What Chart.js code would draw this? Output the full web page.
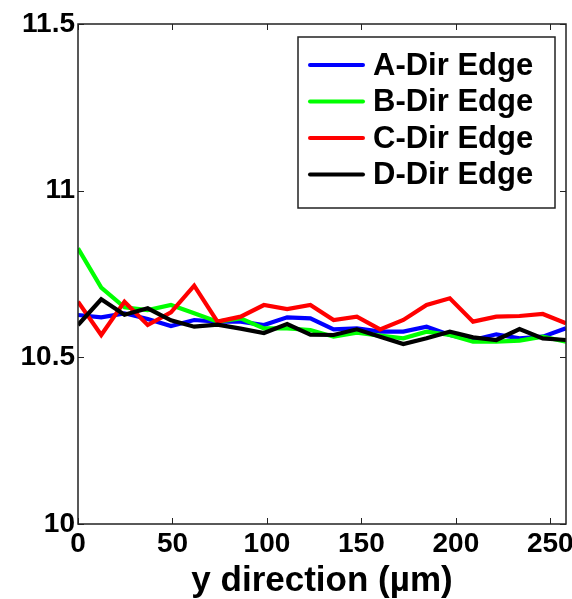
<!DOCTYPE html>
<html>
<head>
<meta charset="utf-8">
<script src="https://cdn.jsdelivr.net/npm/chart.js@4.4.0/dist/chart.umd.min.js"></script>
<style>
html,body{margin:0;padding:0;background:#fff;}
#wrap{width:572px;height:599px;}
</style>
</head>
<body>
<div id="wrap"><canvas id="c" width="572" height="599"></canvas></div>
<script>
const xPositions = [0,12.3,24.6,36.9,49.2,61.5,73.8,86.1,98.4,110.7,123,135.3,147.6,159.9,172.2,184.5,196.8,209.1,221.4,233.7,246,258.3];
const seriesA = [10.627,10.620,10.632,10.615,10.594,10.612,10.607,10.607,10.597,10.620,10.617,10.584,10.587,10.577,10.577,10.592,10.567,10.552,10.569,10.557,10.562,10.587];
const seriesB = [10.827,10.709,10.650,10.642,10.657,10.632,10.607,10.617,10.587,10.587,10.582,10.562,10.574,10.565,10.557,10.577,10.567,10.547,10.547,10.550,10.562,10.547];
const seriesC = [10.667,10.567,10.667,10.597,10.635,10.715,10.607,10.622,10.657,10.645,10.657,10.612,10.622,10.584,10.612,10.657,10.677,10.607,10.622,10.624,10.630,10.602];
const seriesD = [10.597,10.674,10.628,10.647,10.611,10.592,10.598,10.586,10.573,10.600,10.568,10.567,10.584,10.562,10.540,10.557,10.577,10.560,10.552,10.585,10.557,10.552];
const seriesNames = ['A-Dir Edge','B-Dir Edge','C-Dir Edge','D-Dir Edge'];
const xTickValues = [0,50,100,150,200,250];
const yTickValues = [10,10.5,11,11.5];
const xTitle = 'y direction (\u00b5m)';

const FONT = '"Liberation Sans", Arial, Helvetica, sans-serif';
const toPts = arr => arr.map((v,i)=>({x:xPositions[i], y:v}));

const framePlugin = {
  id:'frame',
  afterDatasetsDraw(chart){
    const {ctx, chartArea:a, scales:{x,y}} = chart;
    ctx.save();
    ctx.strokeStyle = '#222';
    ctx.lineWidth = 1.5;
    ctx.strokeRect(a.left, a.top, a.right-a.left, a.bottom-a.top);
    ctx.lineWidth = 1;
    const tl = 6;
    ctx.beginPath();
    xTickValues.forEach(v=>{
      const px = Math.round(x.getPixelForValue(v))+0.5;
      ctx.moveTo(px,a.bottom); ctx.lineTo(px,a.bottom-tl);
      ctx.moveTo(px,a.top); ctx.lineTo(px,a.top+tl);
    });
    yTickValues.forEach(v=>{
      const py = Math.round(y.getPixelForValue(v))+0.5;
      ctx.moveTo(a.left,py); ctx.lineTo(a.left+tl,py);
      ctx.moveTo(a.right,py); ctx.lineTo(a.right-tl,py);
    });
    ctx.stroke();
    ctx.restore();
  }
};

const legendPlugin = {
  id:'boxLegend',
  afterDraw(chart){
    const {ctx, chartArea:a} = chart;
    const bx = a.left + 220, by = a.top + 13, bw = 257, bh = 171;
    ctx.save();
    ctx.fillStyle = '#fff';
    ctx.fillRect(bx,by,bw,bh);
    ctx.strokeStyle = '#222';
    ctx.lineWidth = 1.5;
    ctx.strokeRect(bx,by,bw,bh);
    ctx.font = 'bold 31px ' + FONT;
    ctx.textBaseline = 'middle';
    ctx.textAlign = 'left';
    const ds = chart.data.datasets;
    ds.forEach((d,i)=>{
      const cy = by + 28 + i*36.5;
      ctx.strokeStyle = d.borderColor;
      ctx.lineWidth = 4;
      ctx.lineCap = 'round';
      ctx.beginPath();
      ctx.moveTo(bx+12, cy); ctx.lineTo(bx+65, cy);
      ctx.stroke();
      ctx.fillStyle = '#000';
      ctx.fillText(d.label, bx+75, cy+1);
    });
    ctx.restore();
  }
};

new Chart(document.getElementById('c'), {
  type:'line',
  data:{
    datasets:[
      {label:seriesNames[0], data:toPts(seriesA), borderColor:'#0000ff', order:3},
      {label:seriesNames[1], data:toPts(seriesB), borderColor:'#00ff00', order:2},
      {label:seriesNames[2], data:toPts(seriesC), borderColor:'#ff0000', order:1},
      {label:seriesNames[3], data:toPts(seriesD), borderColor:'#000000', order:0}
    ]
  },
  options:{
    responsive:false,
    animation:false,
    devicePixelRatio:1,
    layout:{padding:{top:24,right:6,left:0,bottom:0}},
    elements:{
      line:{borderWidth:4.2, tension:0, fill:false, borderJoinStyle:'miter'},
      point:{radius:0, hoverRadius:0}
    },
    plugins:{legend:{display:false}, tooltip:{enabled:false}},
    scales:{
      x:{
        type:'linear', min:0, max:258.3,
        grid:{display:false, drawTicks:false}, border:{display:false},
        afterBuildTicks(s){ s.ticks = xTickValues.map(v=>({value:v})); },
        afterFit(s){ s.height = 75; s.paddingRight = 0; s.paddingLeft = 0; },
        ticks:{font:{family:FONT, size:28, weight:'bold'}, color:'#000', padding:3, maxRotation:0, autoSkip:false,
               callback:v=>String(v)},
        title:{display:true, text:xTitle, font:{family:FONT, size:35, weight:'bold'}, color:'#000', padding:{top:0,bottom:-3}}
      },
      y:{
        type:'linear', min:10, max:11.5,
        grid:{display:false, drawTicks:false}, border:{display:false},
        afterBuildTicks(s){ s.ticks = yTickValues.map(v=>({value:v})); },
        afterFit(s){ s.width = 78; s.paddingTop = 0; s.paddingBottom = 0; },
        ticks:{font:{family:FONT, size:28, weight:'bold'}, color:'#000', padding:3,
               callback:v=>String(v)}
      }
    }
  },
  plugins:[framePlugin, legendPlugin]
});
</script>
</body>
</html>
